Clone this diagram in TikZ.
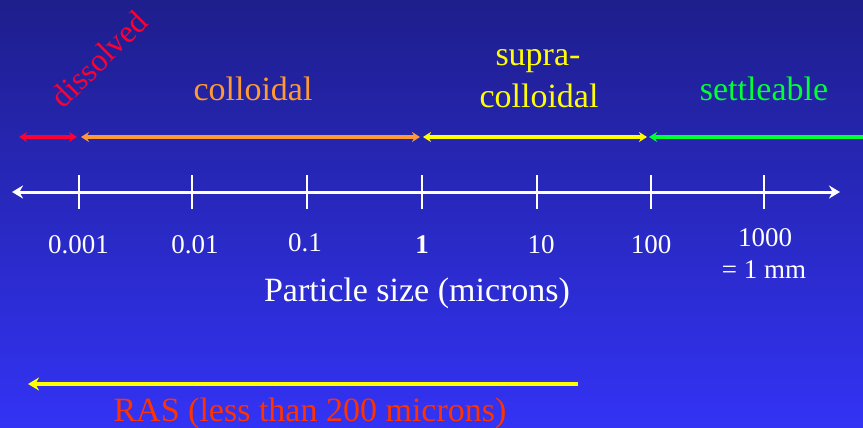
\documentclass[tikz,border=0pt]{standalone}
\usepackage{fontspec}
\setmainfont{Liberation Serif}
\usetikzlibrary{arrows.meta, positioning, calc}
\definecolor{SlideTop}{RGB}{30,30,140}
\definecolor{SlideBottom}{RGB}{51,51,245}
\definecolor{DissRed}{RGB}{255,0,51}
\definecolor{CollOrange}{RGB}{255,153,51}
\definecolor{SupraYellow}{RGB}{255,255,0}
\definecolor{SettleGreen}{RGB}{0,255,51}
\definecolor{RasRed}{RGB}{255,51,0}

\begin{document}
\begin{tikzpicture}[x=1pt, y=-1pt, >=Stealth,
    lbl/.style={inner sep=0pt, anchor=base, font=\fontsize{34}{41}\selectfont},
    num/.style={inner sep=0pt, anchor=base, white, font=\fontsize{27}{32}\selectfont},
    sizerange/.style={line width=3.5pt, {Stealth[length=8pt,width=10pt]}-{Stealth[length=8pt,width=10pt]}}]
        % Background
        \shade[top color=SlideTop, bottom color=SlideBottom] (0,0) rectangle (863,428);
        \useasboundingbox (0,0) rectangle (863,428);

        % Size classes
        \coordinate (r0) at (19,137);
        \coordinate (r1) at (77,137);
        \coordinate (o0) at (81,137);
        \coordinate (o1) at (420,137);
        \coordinate (y0) at (423,137);
        \coordinate (y1) at (647,137);
        \coordinate (g0) at (649,137);
        \coordinate (g1) at (870,137);
        \draw[sizerange, DissRed] (r0) -- (r1);
        \draw[sizerange, CollOrange] (o0) -- (o1);
        \draw[sizerange, SupraYellow] (y0) -- (y1);
        \draw[line width=3.5pt, SettleGreen, {Stealth[length=8pt,width=10pt]}-] (g0) -- (g1);

        \node[lbl, DissRed, rotate=45, anchor=center, font=\fontsize{32}{38}\selectfont] (dissolved) at (99,59) {dissolved};
        \node[lbl, CollOrange] (colloidal) at (253,100) {colloidal};
        \node[lbl, SupraYellow] (supra) at (538,66) {supra-};
        \node[lbl, SupraYellow] (supracoll) at (539,107) {colloidal};
        \node[lbl, SettleGreen] (settle) at (764,101) {settleable};

        % Size axis
        \coordinate (axL) at (12,192);
        \coordinate (axR) at (840,192);
        \draw[white, line width=3pt, {Stealth[length=11pt,width=13pt]}-{Stealth[length=11pt,width=13pt]}] (axL) -- (axR);
        \foreach \x [count=\i] in {79, 192, 307, 422, 537, 651, 764} {
            \coordinate (tt\i) at (\x,175);
            \coordinate (tb\i) at (\x,209);
            \draw[white, line width=2.5pt] (tt\i) -- (tb\i);
        }
        \foreach \x/\y/\lab [count=\i] in {78.5/253/0.001, 195/253/0.01, 305/251/0.1,
                422/253/{\textbf{1}}, 541/253/10, 651/253/100, 765/246/1000} {
            \node[num] (n\i) at (\x,\y) {\lab};
        }
        \node[num] (mm) at (764,278) {= 1 mm};
        \node[lbl, white] (axtitle) at (417,301) {Particle size (microns)};

        % RAS range
        \coordinate (rasR) at (578,384);
        \coordinate (rasL) at (28,384);
        \draw[SupraYellow, line width=4pt, -{Stealth[length=11pt,width=13pt]}] (rasR) -- (rasL);
        \node[lbl, RasRed] (ras) at (310,421) {RAS (less than 200 microns)};
    \end{tikzpicture}
\end{document}
